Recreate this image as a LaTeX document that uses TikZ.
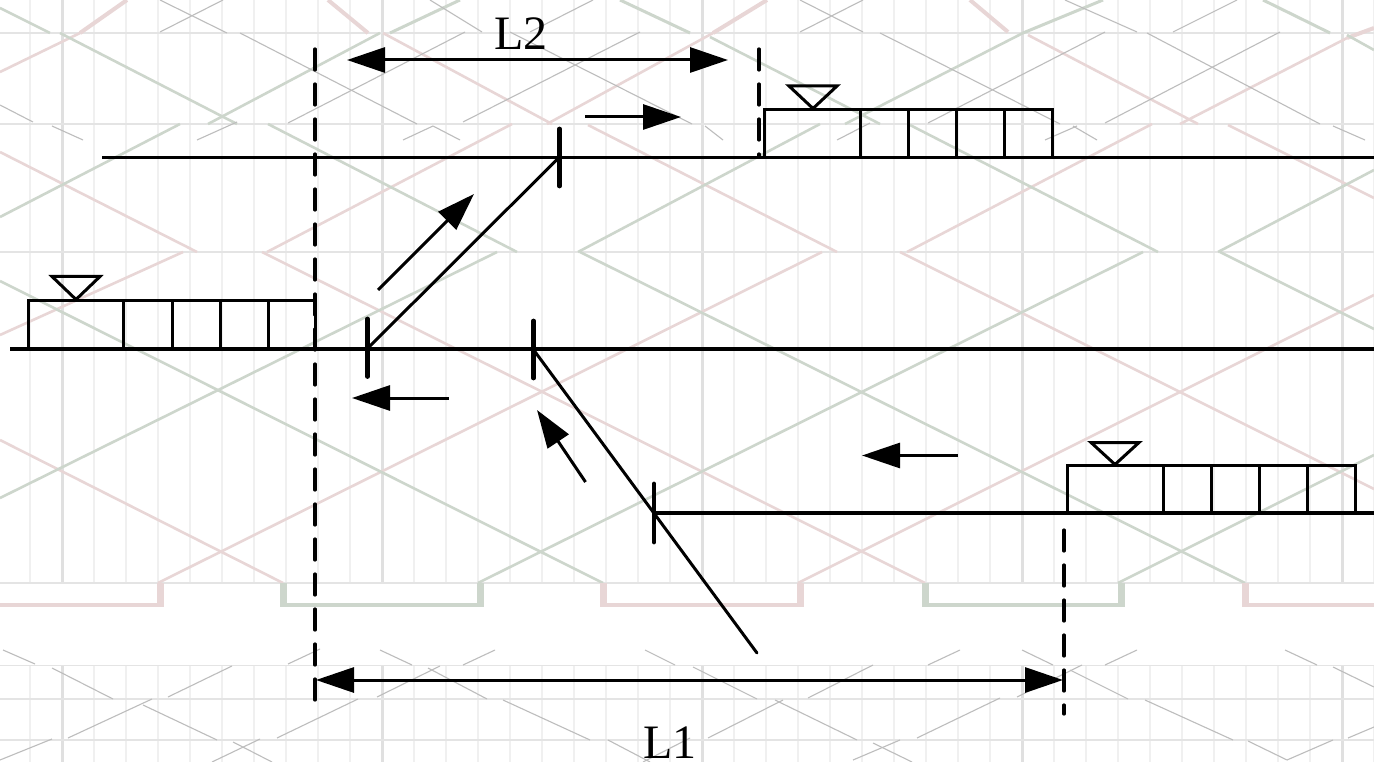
\documentclass[tikz,border=0pt]{standalone}
\usepackage{fontspec}
\setmainfont{Liberation Serif}
\usetikzlibrary{arrows.meta}
\definecolor{gridlight}{HTML}{F0F0F0}
\definecolor{griddark}{HTML}{E0E0E0}
\definecolor{gridh}{HTML}{E4E4E4}
\definecolor{wavepink}{HTML}{E8D6D6}
\definecolor{wavegreen}{HTML}{CDD6CC}
\definecolor{wavegray}{HTML}{BDBDBD}
\tikzset{
  vlight/.style={draw=gridlight,line width=2.8pt},
  vdark/.style={draw=griddark,line width=3pt},
  hgrid/.style={draw=gridh,line width=1.8pt},
  pinkline/.style={draw=wavepink,line width=2.6pt},
  greenline/.style={draw=wavegreen,line width=2.6pt},
  pinkheavy/.style={draw=wavepink,line width=4pt},
  greenheavy/.style={draw=wavegreen,line width=3pt},
  grayline/.style={draw=wavegray,line width=1.1pt},
  rail/.style={draw=black,line width=3.2pt},
  thin black/.style={draw=black,line width=3pt,line cap=round},
  tick/.style={draw=black,line width=4.8pt,line cap=round},
  vdash/.style={draw=black,line width=3.2pt,line cap=round,dash pattern=on 21pt off 14pt},
  arrowline/.style={draw=black,line width=3pt,-{Triangle[length=38pt,width=25pt]}},
  dimline/.style={draw=black,line width=3pt,{Triangle[length=38pt,width=25pt]}-{Triangle[length=38pt,width=25pt]}},
  train/.style={draw=black,line width=3pt,line join=miter},
  bigtext/.style={inner sep=0pt,anchor=base west,font=\fontsize{48}{48}\selectfont}
}
\begin{document}
\begin{tikzpicture}[x=1pt,y=-1pt]
\useasboundingbox (0,0) rectangle (1374,762);
\fill[white] (0,0) rectangle (1374,762);
% vertical grid
\foreach \k in {0,...,42}{
  \pgfmathsetmacro{\xx}{30+32*\k}
  \pgfmathtruncatemacro{\m}{mod(\k+9,10)}
  \ifnum\m=0
    \draw[vdark] (\xx,0) -- (\xx,583);
    \draw[vdark] (\xx,665) -- (\xx,762);
  \else
    \draw[vlight] (\xx,0) -- (\xx,583);
    \draw[vlight] (\xx,665) -- (\xx,762);
  \fi
}
% horizontal grid
\foreach \yy in {33,124,252,583,665.5,699,740}
  \draw[hgrid] (0,\yy) -- (1374,\yy);
% pink carrier lines
\foreach \a/\b/\c/\d in {0/72/80/33, 383/33/552/124, 547/124/713/33, 1028/35/1198/124, 1180/124/1347/38,
  0/152/197/252, 267/252/512/124, 588/125/837/252, 907/252/1152/124, 1228/125/1374/198,
  0/335/183/252, 262/252/925/583, 0/440/283/583, 158/583/822/252, 798/583/1374/295, 900/252/1374/489}
  \draw[pinkline] (\a,\b) -- (\c,\d);
\foreach \a/\b/\c/\d in {80/33/127/0, 328/0/368/33, 713/33/767/0, 970/0/1008/32, 1347/38/1374/28}
  \draw[pinkheavy] (\a,\b) -- (\c,\d);
% green carrier lines
\foreach \a/\b/\c/\d in {0/8/50/33, 60/33/237/124, 208/124/380/33, 710/37/880/124, 845/124/1023/33, 1347/35/1374/50,
  0/217/180/124, 268/124/517/252, 578/252/820/124, 910/125/1158/252, 1218/252/1374/170,
  0/281/603/583, 0/498/497/252, 478/583/1143/252, 580/252/1245/583, 1118/583/1374/455, 1220/252/1374/329}
  \draw[greenline] (\a,\b) -- (\c,\d);
\foreach \a/\b/\c/\d in {390/33/460/0, 620/0/690/33, 1023/33/1103/0, 1263/0/1330/33}
  \draw[greenheavy] (\a,\b) -- (\c,\d);
% thin grey lines, upper strip
\foreach \a/\b/\c/\d in {160/0/227/33, 240/33/417/124, 433/126/460/140,
  430/0/482/32, 510/32/692/124, 705/126/723/140,
  800/0/863/32, 880/33/1060/124, 1073/126/1097/140,
  1065/0/1137/32, 1147/33/1320/124, 1333/126/1365/140,
  0/105/33/122, 52/126/83/140,
  160/32/223/0, 288/123/465/32, 197/140/237/122, 403/140/433/126,
  463/122/640/32, 530/32/593/0, 800/32/863/0, 837/140/870/123,
  928/123/1105/32, 1045/140/1077/126, 1105/123/1280/32, 1173/32/1237/0}
  \draw[grayline] (\a,\b) -- (\c,\d);
% thin grey lines, lower strip
\foreach \a/\b/\c/\d in {3/650/35/664, 52/668/113/699, 143/705/217/740, 233/742/272/762,
  0/760/52/739, 68/738/152/699, 168/697/232/666,
  212/762/260/739, 277/738/358/699, 377/697/440/666,
  288/664/320/649,
  380/650/412/665, 428/668/487/699, 503/700/590/740, 608/740/650/762,
  463/665/495/650,
  645/650/675/665, 693/667/757/699, 775/700/857/740, 873/743/912/762,
  643/762/690/738, 708/738/783/700, 808/698/873/665,
  853/760/900/740, 917/738/1000/698, 1017/697/1082/665,
  928/665/960/650, 1105/665/1137/650,
  1022/650/1053/665, 1070/670/1128/699, 1145/700/1233/740, 1248/741/1287/760,
  1287/760/1333/740, 1348/738/1374/727,
  1285/650/1317/665, 1333/667/1374/687}
  \draw[grayline] (\a,\b) -- (\c,\d);
% square wave
\foreach \a/\b in {0/163, 600/804, 1242/1374}
  \draw[wavepink,line width=4pt] (\a,605) -- (\b,605);
\foreach \a/\b in {280/484, 922/1125}
  \draw[wavegreen,line width=4pt] (\a,605) -- (\b,605);
\foreach \a in {160,603.5,800.5,1245}
  \draw[wavepink,line width=7pt] (\a,583) -- (\a,607);
\foreach \a in {283.5,480.5,925.5,1121}
  \draw[wavegreen,line width=7pt] (\a,583) -- (\a,607);
% named points
\coordinate (t2a) at (102,157.5); \coordinate (t2b) at (1374,157.5);
\coordinate (m1a) at (10,349); \coordinate (m1b) at (1374,349);
\coordinate (b1a) at (654,513); \coordinate (b1b) at (1374,513);
\coordinate (dl1) at (315,49); \coordinate (dl2) at (315,702);
\coordinate (dm1) at (759,49); \coordinate (dm2) at (759,157);
\coordinate (dr1) at (1064,530); \coordinate (dr2) at (1064,714);
\coordinate (swA) at (367,349); \coordinate (swB) at (559,157.5);
\coordinate (swC) at (533,349); \coordinate (swD) at (757,653);
% dashed verticals
\draw[vdash] (dl1) -- (dl2);
\draw[vdash] (dm1) -- (dm2);
\draw[vdash] (dr1) -- (dr2);
% rails
\draw[rail] (t2a) -- (t2b);
\draw[rail] (m1a) -- (m1b);
\draw[rail] (b1a) -- (b1b);
% diagonals
\draw[thin black] (swA) -- (swB);
\draw[thin black] (swC) -- (swD);
% ticks
\draw[tick] (367.5,319) -- (367.5,376.5);
\draw[tick] (559.5,129) -- (559.5,186);
\draw[tick] (533.5,321) -- (533.5,378);
\draw[tick] (654,484) -- (654,542);
% trains
\draw[train] (28,349) |- (315,300) -- (315,349);
\foreach \a in {123.5,172,220,268} \draw[train] (\a,300) -- (\a,349);
\draw[train] (52,276.5) -- (100,276.5) -- (76,299.5) -- cycle;
\draw[train] (764.5,157) |- (1052.5,109.5) -- (1052.5,157);
\foreach \a in {860.5,908.5,956.5,1004.5} \draw[train] (\a,109.5) -- (\a,157);
\draw[train] (789,86) -- (837,86) -- (813,108.5) -- cycle;
\draw[train] (1067,513) |- (1355,465.5) -- (1355,513);
\foreach \a in {1163,1211,1259,1307} \draw[train] (\a,465.5) -- (\a,513);
\draw[train] (1091,442.5) -- (1139,442.5) -- (1115,464.5) -- cycle;
% arrows
\coordinate (a1s) at (585,117); \coordinate (a1e) at (681,117);
\coordinate (a2s) at (378,290); \coordinate (a2e) at (474,194);
\coordinate (a3s) at (448.5,398); \coordinate (a3e) at (352,398);
\coordinate (a4s) at (585.5,482); \coordinate (a4e) at (537,410);
\coordinate (a5s) at (957.5,455.5); \coordinate (a5e) at (862,455.5);
\coordinate (l2a) at (347,60); \coordinate (l2b) at (728,60);
\coordinate (l1a) at (316,680); \coordinate (l1b) at (1063,680);
\draw[arrowline] (a1s) -- (a1e);
\draw[arrowline] (a2s) -- (a2e);
\draw[arrowline] (a3s) -- (a3e);
\draw[arrowline] (a4s) -- (a4e);
\draw[arrowline] (a5s) -- (a5e);
\draw[dimline] (l2a) -- (l2b);
\draw[dimline] (l1a) -- (l1b);
% labels
\node[bigtext] (labL2) at (494,50) {L2};
\node[bigtext] (labL1) at (643,758) {L1};
\end{tikzpicture}
\end{document}
